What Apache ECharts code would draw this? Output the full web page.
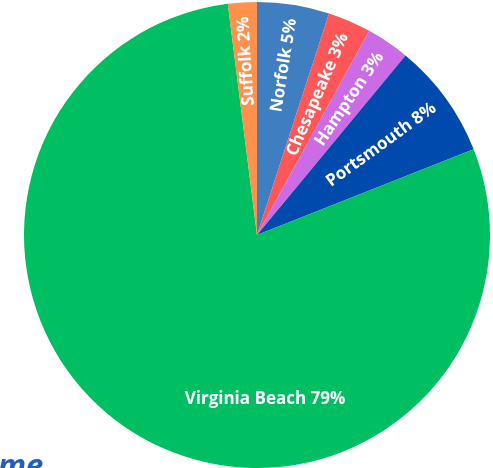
<!DOCTYPE html>
<html>
<head>
<meta charset="utf-8">
<script src="https://cdn.jsdelivr.net/npm/echarts@6/dist/echarts.min.js"></script>
<style>
html, body { margin: 0; padding: 0; background: #fff; }
#main { width: 493px; height: 468px; }
</style>
</head>
<body>
<div id="main"></div>
<script>
// slices, clockwise from 12 o'clock
const cities = ['Norfolk', 'Chesapeake', 'Hampton', 'Portsmouth', 'Virginia Beach', 'Suffolk'];
const shares = [5, 3, 3, 8, 79, 2];
const colors = ['#3f7ec0', '#ff5757', '#cb6ce6', '#004aad', '#00bf63', '#ff914d'];

const cx = 257, cy = 235, R = 233;
const fontFamily = '"Open Sans", sans-serif';
const fontSize = 17;

// mid angle of every slice (degrees, counter-clockwise from 3 o'clock)
const total = shares.reduce((a, b) => a + b, 0);
const midAngles = [];
let acc = 0;
shares.forEach(v => {
    midAngles.push(90 - (acc + v / 2) / total * 360);
    acc += v;
});

// text width, to push the rotated labels out to the rim
const ctx = document.createElement('canvas').getContext('2d');
ctx.font = 'bold ' + fontSize + 'px ' + fontFamily;
const labelText = i => cities[i] + ' ' + shares[i] + '%';

const chart = echarts.init(document.getElementById('main'));
chart.setOption({
    animation: false,
    graphic: [{
        type: 'text',
        x: -2,
        y: 452,
        style: {
            text: 'me',
            font: 'italic bold 31px ' + fontFamily,
            fill: '#1f5fc0',
            verticalAlign: 'top'
        }
    }],
    series: [{
        type: 'pie',
        center: [cx, cy],
        radius: R,
        startAngle: 90,
        clockwise: true,
        label: {
            position: 'inside',
            color: '#fff',
            fontFamily: fontFamily,
            fontWeight: 'bold',
            fontSize: fontSize,
            formatter: '{b} {c}%'
        },
        labelLine: { show: false },
        labelLayout: function (p) {
            const i = p.dataIndex;
            if (cities[i] === 'Virginia Beach') {
                return { x: cx + 8, y: cy + 164, rotate: 0 };
            }
            const w = ctx.measureText(labelText(i)).width;
            const rl = R - 14 - w / 2;
            const a = midAngles[i] * Math.PI / 180;
            return {
                x: cx + rl * Math.cos(a),
                y: cy - rl * Math.sin(a),
                rotate: midAngles[i]
            };
        },
        data: cities.map((name, i) => ({
            name: name,
            value: shares[i],
            itemStyle: { color: colors[i] }
        }))
    }]
});
</script>
</body>
</html>
